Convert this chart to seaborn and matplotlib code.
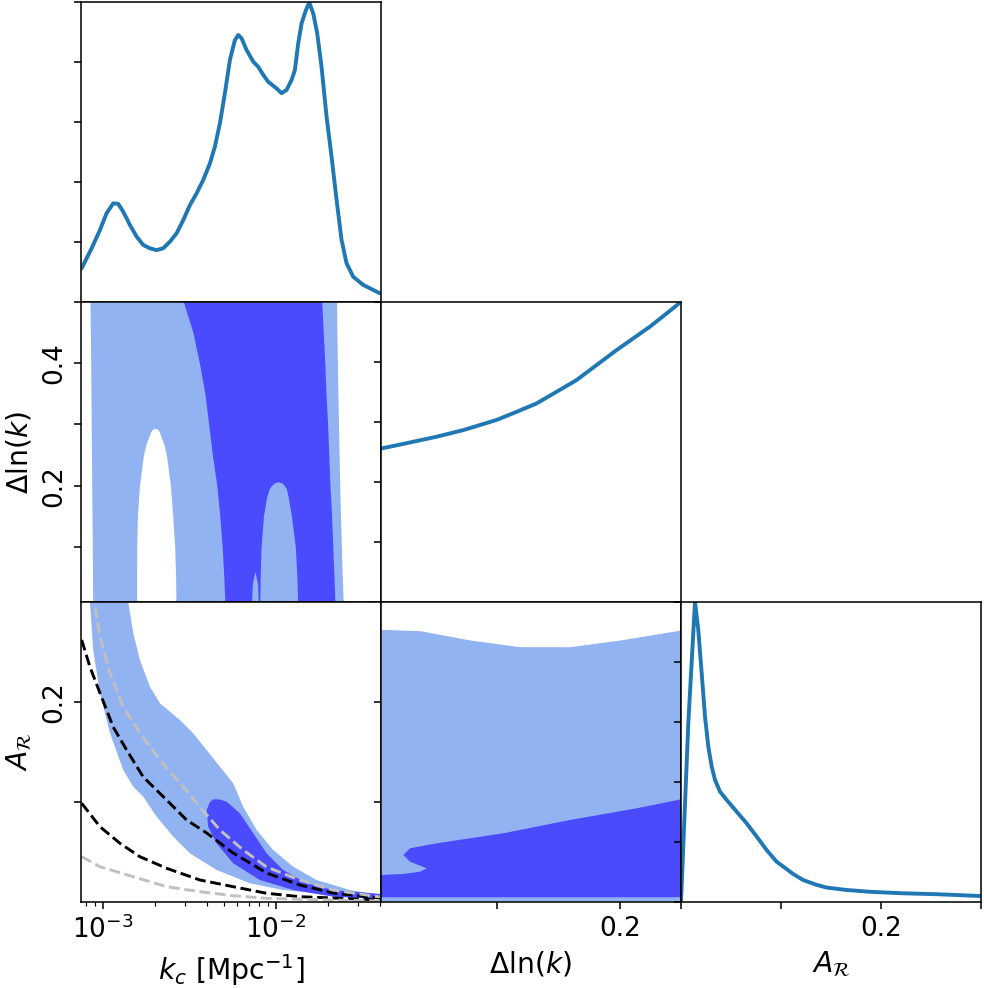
import numpy as np
import pandas as pd
import matplotlib
matplotlib.use("Agg")
import matplotlib.pyplot as plt
import seaborn as sns
from matplotlib.ticker import NullFormatter

# ---------------- data ----------------
# 1D marginal of k_c  [Mpc^-1]
kc_1d = [7.56e-4, 8.64e-4, 9.65e-4, 1.054e-3, 1.152e-3, 1.231e-3, 1.315e-3, 1.437e-3,
         1.571e-3, 1.716e-3, 1.875e-3, 2.049e-3, 2.239e-3, 2.446e-3, 2.674e-3, 2.920e-3,
         3.192e-3, 3.487e-3, 3.811e-3, 4.164e-3, 4.450e-3, 4.756e-3, 5.082e-3, 5.433e-3,
         5.806e-3, 6.069e-3, 6.344e-3, 6.778e-3, 7.408e-3, 7.914e-3, 8.459e-3, 9.043e-3,
         1.010e-2, 1.080e-2, 1.154e-2, 1.233e-2, 1.289e-2, 1.347e-2, 1.409e-2, 1.492e-2,
         1.560e-2, 1.645e-2, 1.734e-2, 1.837e-2, 1.964e-2, 2.099e-2, 2.244e-2, 2.397e-2,
         2.562e-2, 2.800e-2, 3.197e-2, 3.652e-2, 3.990e-2]
kc_dens = [0.112, 0.179, 0.240, 0.296, 0.329, 0.327, 0.301, 0.257,
           0.218, 0.190, 0.179, 0.173, 0.179, 0.201, 0.229, 0.273,
           0.323, 0.362, 0.407, 0.462, 0.518, 0.596, 0.696, 0.807,
           0.873, 0.890, 0.879, 0.840, 0.801, 0.784, 0.757, 0.734,
           0.712, 0.696, 0.707, 0.740, 0.773, 0.862, 0.929, 0.973,
           0.998, 0.962, 0.896, 0.784, 0.618, 0.484, 0.340, 0.207,
           0.129, 0.084, 0.057, 0.040, 0.029]

# 1D marginal of Delta ln(k)
dl_1d = [0.0055, 0.0232, 0.0505, 0.0722, 0.0995, 0.1158, 0.1321, 0.1485, 0.1648,
         0.1811, 0.1975, 0.2111, 0.2247, 0.2383, 0.2492]
dl_dens = [0.512, 0.527, 0.551, 0.573, 0.607, 0.634, 0.662, 0.701, 0.740,
           0.790, 0.840, 0.879, 0.918, 0.962, 0.998]

# 1D marginal of A_R
ar_1d = [0.0, 0.0073, 0.014, 0.0173, 0.0207, 0.024, 0.0273, 0.0307, 0.034, 0.039,
         0.0457, 0.0557, 0.0657, 0.0757, 0.0857, 0.0957, 0.1023, 0.1123, 0.1223,
         0.1357, 0.1457, 0.1657, 0.189, 0.2223, 0.2557, 0.299]
ar_dens = [0.0, 0.596, 1.0, 0.907, 0.762, 0.618, 0.518, 0.451, 0.407, 0.368,
           0.340, 0.301, 0.262, 0.218, 0.173, 0.134, 0.118, 0.093, 0.073,
           0.057, 0.048, 0.040, 0.034, 0.029, 0.026, 0.020]

# k_c vs Delta ln(k): contour boundaries (k_c at given Delta ln(k) levels)
kd_levels = [0.01, 0.05, 0.10, 0.15, 0.20, 0.25, 0.30, 0.35, 0.40, 0.45, 0.50]
kd_outer_left = [8.76e-4, 8.74e-4, 8.71e-4, 8.68e-4, 8.65e-4, 8.62e-4, 8.59e-4,
                 8.56e-4, 8.53e-4, 8.49e-4, 8.45e-4]
kd_outer_right = [2.450e-2, 2.421e-2, 2.392e-2, 2.364e-2, 2.339e-2, 2.320e-2, 2.301e-2,
                  2.283e-2, 2.268e-2, 2.253e-2, 2.244e-2]
kd_inner_left = [5.083e-3, 5.010e-3, 4.903e-3, 4.750e-3, 4.564e-3, 4.304e-3, 4.098e-3,
                 3.897e-3, 3.622e-3, 3.325e-3, 2.931e-3]
kd_inner_right = [2.194e-2, 2.168e-2, 2.133e-2, 2.100e-2, 2.055e-2, 2.023e-2, 1.991e-2,
                  1.949e-2, 1.918e-2, 1.880e-2, 1.841e-2]
hole_levels = [0.01, 0.05, 0.10, 0.15, 0.20, 0.25, 0.27, 0.28, 0.288, 0.292, 0.294]
hole_left = [1.571e-3, 1.571e-3, 1.573e-3, 1.588e-3, 1.631e-3, 1.720e-3, 1.790e-3,
             1.850e-3, 1.895e-3, 1.935e-3, 2.004e-3]
hole_right = [2.650e-3, 2.639e-3, 2.607e-3, 2.539e-3, 2.463e-3, 2.335e-3, 2.245e-3,
              2.171e-3, 2.125e-3, 2.080e-3, 2.004e-3]
arch_levels = [0.01, 0.05, 0.10, 0.15, 0.18, 0.195, 0.20, 0.204, 0.2065]
arch_left = [8.09e-3, 8.12e-3, 8.22e-3, 8.48e-3, 8.83e-3, 9.15e-3, 9.43e-3, 9.75e-3,
             1.032e-2]
arch_right = [1.336e-2, 1.324e-2, 1.296e-2, 1.231e-2, 1.182e-2, 1.150e-2, 1.121e-2,
              1.090e-2, 1.032e-2]
spike_levels = [0.01, 0.04, 0.0595]
spike_left = [7.25e-3, 7.32e-3, 7.57e-3]
spike_right = [7.92e-3, 7.85e-3, 7.57e-3]

# k_c vs A_R: contour outlines (closed loops)
ka_outer_k = [8.45e-4, 8.82e-4, 9.65e-4, 1.102e-3, 1.315e-3, 1.502e-3, 1.716e-3, 2.050e-3,
              2.556e-3, 3.192e-3, 4.551e-3, 7.09e-3, 1.103e-2, 2.136e-2, 4.045e-2,
              4.045e-2, 2.678e-2, 1.720e-2, 1.260e-2, 9.66e-3, 7.75e-3, 6.48e-3, 5.675e-3,
              4.756e-3, 3.988e-3, 3.335e-3, 2.794e-3, 2.142e-3, 1.875e-3, 1.641e-3,
              1.502e-3, 1.405e-3]
ka_outer_a = [0.300, 0.252, 0.209, 0.169, 0.132, 0.1153, 0.1053, 0.0853, 0.0653, 0.0487,
              0.032, 0.0187, 0.012, 0.007, 0.0043,
              0.007, 0.012, 0.022, 0.0353, 0.052, 0.072, 0.0953, 0.1187, 0.1353, 0.152,
              0.1687, 0.182, 0.1987, 0.2153, 0.242, 0.269, 0.300]
ka_inner_k = [3.988e-3, 4.07e-3, 4.551e-3, 5.675e-3, 8.09e-3, 1.260e-2, 2.145e-2, 4.045e-2,
              4.045e-2, 2.136e-2, 1.506e-2, 1.103e-2, 8.85e-3, 7.41e-3, 6.20e-3, 5.20e-3,
              4.756e-3, 4.351e-3, 4.165e-3]
ka_inner_a = [0.092, 0.0753, 0.0587, 0.0387, 0.022, 0.012, 0.0053, 0.003,
              0.008, 0.012, 0.0187, 0.032, 0.0487, 0.0687, 0.0887, 0.1003,
              0.1025, 0.1027, 0.100]

# theoretical dashed curves in the k_c - A_R plane
curve_black_hi_k = [7.57e-4, 8.45e-4, 9.65e-4, 1.151e-3, 1.376e-3, 1.716e-3, 2.342e-3,
                    3.055e-3, 3.988e-3, 5.675e-3, 8.85e-3, 1.377e-2, 2.136e-2, 3.99e-2]
curve_black_hi_a = [0.262, 0.235, 0.209, 0.175, 0.152, 0.125, 0.102, 0.082, 0.069,
                    0.049, 0.029, 0.017, 0.009, 0.004]
curve_black_lo_k = [7.57e-4, 9.65e-4, 1.259e-3, 1.641e-3, 2.342e-3, 3.646e-3, 5.675e-3,
                    8.85e-3, 1.377e-2, 2.136e-2, 3.99e-2]
curve_black_lo_a = [0.0987, 0.0753, 0.0587, 0.0453, 0.0337, 0.022, 0.0153, 0.0087,
                    0.0053, 0.004, 0.002]
curve_grey_hi_k = [8.8e-4, 9.65e-4, 1.102e-3, 1.315e-3, 1.641e-3, 2.142e-3, 2.794e-3,
                   3.646e-3, 4.756e-3, 6.48e-3, 8.85e-3, 1.377e-2, 2.136e-2, 3.99e-2]
curve_grey_hi_a = [0.31, 0.265, 0.229, 0.195, 0.169, 0.142, 0.119, 0.095, 0.072, 0.052,
                   0.035, 0.022, 0.012, 0.005]
curve_grey_lo_k = [7.57e-4, 9.65e-4, 1.502e-3, 2.342e-3, 3.646e-3, 5.675e-3, 8.85e-3,
                   2.136e-2, 3.99e-2]
curve_grey_lo_a = [0.0453, 0.0353, 0.0253, 0.0153, 0.0103, 0.0063, 0.0037, 0.002, 0.001]

# Delta ln(k) vs A_R
da_levels = [0.005, 0.0369, 0.0777, 0.1185, 0.1593, 0.2002, 0.25]
da_outer_top = [0.2727, 0.2713, 0.262, 0.2553, 0.2553, 0.262, 0.272]
da_outer_bottom = 0.001
da_inner_x = [0.25, 0.2138, 0.1593, 0.1049, 0.0505, 0.0287, 0.0232, 0.0287, 0.0423,
              0.0369, 0.0232, 0.005, 0.005, 0.25]
da_inner_y = [0.1027, 0.0937, 0.082, 0.0687, 0.0587, 0.0537, 0.047, 0.0403, 0.0337,
              0.0303, 0.028, 0.027, 0.0047, 0.0047]

# axis settings
kc_lim = (7.5e-4, 0.0405)
dl_lim_y = (0.01, 0.5)
dl_lim_x = (0.005, 0.25)
ar_lim = (0.0, 0.3)

LIGHT = "#92b3f1"
DARK = "#4a4aff"
LINE = "#1f77b4"

# ---------------- style ----------------
sns.set_theme(style="ticks")
plt.rcParams.update({
    "font.family": ["DejaVu Sans"],
    "mathtext.fontset": "dejavusans",
    "text.color": "black",
    "axes.labelcolor": "black",
    "axes.edgecolor": "black",
    "axes.linewidth": 0.8,
    "xtick.color": "black", "ytick.color": "black",
    "xtick.labelcolor": "black", "ytick.labelcolor": "black",
    "xtick.major.size": 3.5, "ytick.major.size": 3.5,
    "xtick.major.width": 0.8, "ytick.major.width": 0.8,
    "xtick.minor.size": 2.0, "ytick.minor.size": 2.0,
    "xtick.minor.width": 0.6, "ytick.minor.width": 0.6,
    "xtick.labelsize": 13.5, "ytick.labelsize": 13.5,
    "axes.labelsize": 14.5,
    "lines.linewidth": 1.5,
    "axes.facecolor": "white",
})

W, H, DPI = 984, 988, 140
fig = plt.figure(figsize=(W / DPI, H / DPI), dpi=DPI)
col_left = [81, 381, 681]
row_top = [2, 302, 602]
size = 300


def make_ax(r, c):
    return fig.add_axes([col_left[c] / W, 1 - (row_top[r] + size) / H, size / W, size / H])


dens_ticks = [0.0, 0.2, 0.4, 0.6, 0.8, 1.0]
LW1D = 2.0

# --- (0,0) k_c marginal
ax00 = make_ax(0, 0)
sns.lineplot(x=kc_1d, y=kc_dens, ax=ax00, color=LINE, estimator=None, lw=LW1D)
ax00.set_xscale("log")
ax00.set_xlim(*kc_lim)
ax00.set_ylim(0, 1)
ax00.set_yticks(dens_ticks)
ax00.set_yticklabels([])
ax00.xaxis.set_major_formatter(NullFormatter())
ax00.xaxis.set_minor_formatter(NullFormatter())

# --- (1,0) k_c vs Delta ln k
ax10 = make_ax(1, 0)
ax10.fill_betweenx(kd_levels, kd_outer_left, kd_outer_right, color=LIGHT, lw=0)
ax10.fill_betweenx(hole_levels, hole_left, hole_right, color="white", lw=0)
ax10.fill_betweenx(kd_levels, kd_inner_left, kd_inner_right, color=DARK, lw=0)
ax10.fill_betweenx(arch_levels, arch_left, arch_right, color=LIGHT, lw=0)
ax10.fill_betweenx(spike_levels, spike_left, spike_right, color=LIGHT, lw=0)
ax10.set_xscale("log")
ax10.set_xlim(*kc_lim)
ax10.set_ylim(*dl_lim_y)
ax10.set_yticks([0.1, 0.2, 0.3, 0.4])
ax10.set_yticklabels(["", "0.2", "", "0.4"], rotation=90, va="center")
ax10.set_ylabel(r"$\Delta\ln(k)$")
ax10.xaxis.set_major_formatter(NullFormatter())
ax10.xaxis.set_minor_formatter(NullFormatter())

# --- (1,1) Delta ln k marginal
ax11 = make_ax(1, 1)
sns.lineplot(x=dl_1d, y=dl_dens, ax=ax11, color=LINE, estimator=None, lw=LW1D)
ax11.set_xlim(*dl_lim_x)
ax11.set_ylim(0, 1)
ax11.set_yticks(dens_ticks)
ax11.set_yticklabels([])
ax11.set_xticks([0.1, 0.2])
ax11.set_xticklabels([])

# --- (2,0) k_c vs A_R
ax20 = make_ax(2, 0)
ax20.fill(ka_outer_k, ka_outer_a, color=LIGHT, lw=0)
ax20.fill(ka_inner_k, ka_inner_a, color=DARK, lw=0)
sns.lineplot(x=curve_black_hi_k, y=curve_black_hi_a, ax=ax20, color="black",
             linestyle="--", estimator=None)
sns.lineplot(x=curve_black_lo_k, y=curve_black_lo_a, ax=ax20, color="black",
             linestyle="--", estimator=None)
sns.lineplot(x=curve_grey_hi_k, y=curve_grey_hi_a, ax=ax20, color="#c0c0c0",
             linestyle="--", estimator=None)
sns.lineplot(x=curve_grey_lo_k, y=curve_grey_lo_a, ax=ax20, color="#c0c0c0",
             linestyle="--", estimator=None)
ax20.set_xscale("log")
ax20.set_xlim(*kc_lim)
ax20.set_ylim(*ar_lim)
ax20.set_yticks([0.1, 0.2])
ax20.set_yticklabels(["", "0.2"], rotation=90, va="center")
ax20.xaxis.set_minor_formatter(NullFormatter())
ax20.set_xlabel(r"$k_c$ [Mpc$^{-1}$]")
ax20.set_ylabel(r"$A_\mathcal{R}$")

# --- (2,1) Delta ln k vs A_R
ax21 = make_ax(2, 1)
ax21.fill_between(da_levels, da_outer_bottom, da_outer_top, color=LIGHT, lw=0)
ax21.fill(da_inner_x, da_inner_y, color=DARK, lw=0)
ax21.set_xlim(*dl_lim_x)
ax21.set_ylim(*ar_lim)
ax21.set_xticks([0.1, 0.2])
ax21.set_xticklabels(["", "0.2"])
ax21.set_yticks([0.1, 0.2])
ax21.set_yticklabels([])
ax21.set_xlabel(r"$\Delta\ln(k)$")
ax21.set_ylabel("")

# --- (2,2) A_R marginal
ax22 = make_ax(2, 2)
sns.lineplot(x=ar_1d, y=ar_dens, ax=ax22, color=LINE, estimator=None, lw=LW1D)
ax22.set_xlim(*ar_lim)
ax22.set_ylim(0, 1)
ax22.set_yticks(dens_ticks)
ax22.set_yticklabels([])
ax22.set_xticks([0.0, 0.1, 0.2, 0.3])
ax22.set_xticklabels(["", "", "0.2", ""])
ax22.set_xlabel(r"$A_\mathcal{R}$")
ax22.set_ylabel("")

for ax in [ax00, ax10, ax11, ax20, ax21, ax22]:
    for s in ax.spines.values():
        s.set_visible(True)
        s.set_color("black")
for ax in [ax00, ax10, ax11]:
    ax.set_xlabel("")
for ax in [ax00, ax11]:
    ax.set_ylabel("")

fig.savefig("out.png", dpi=DPI)
